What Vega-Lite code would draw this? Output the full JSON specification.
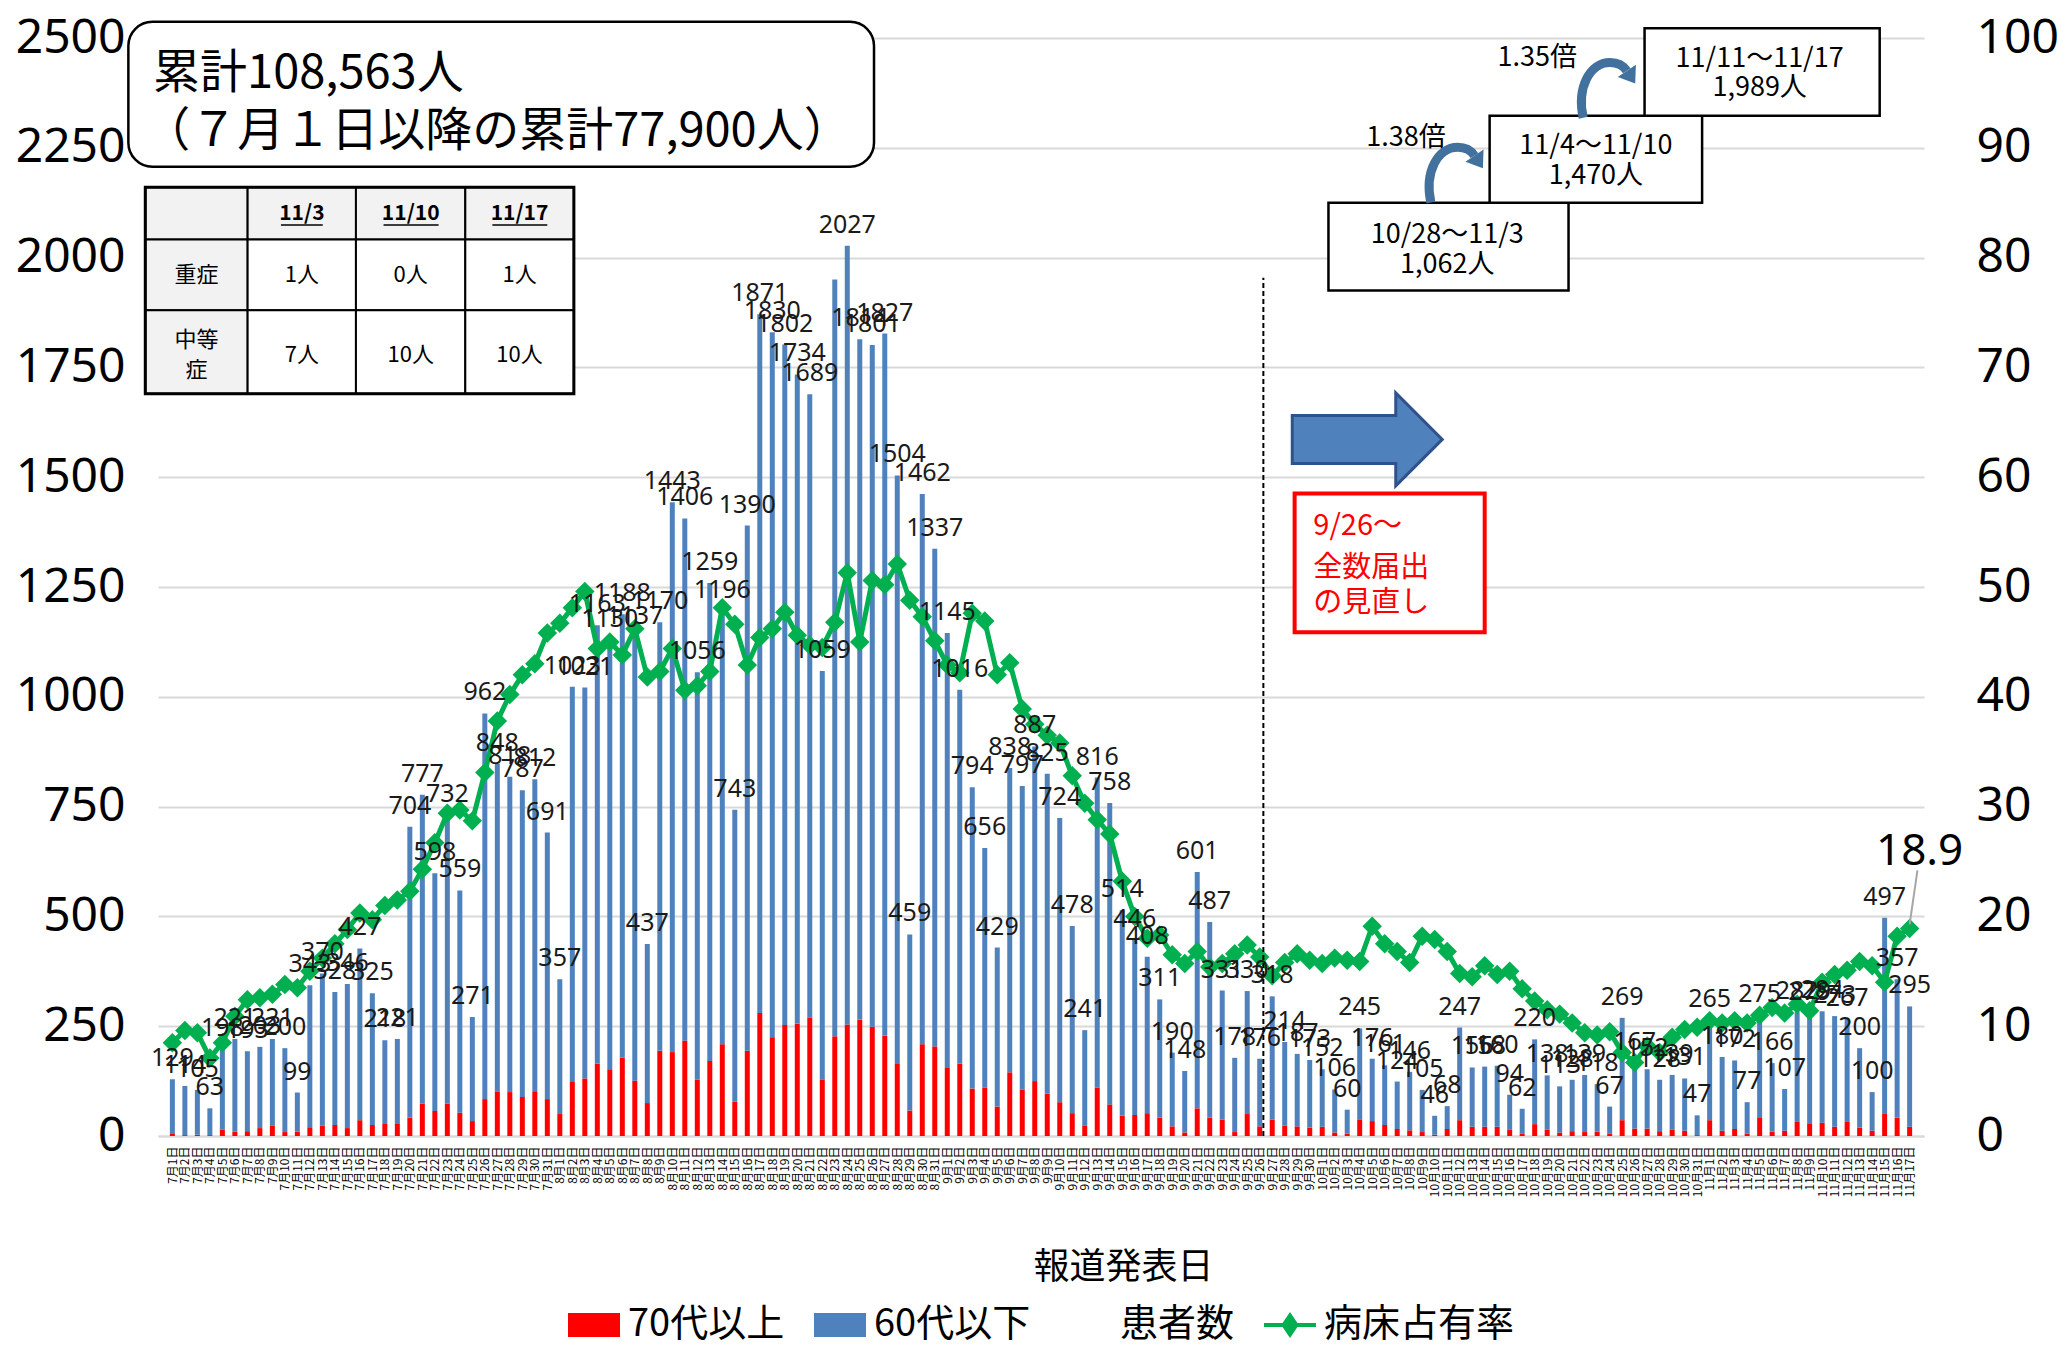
{
"$schema":"https://vega.github.io/schema/vega-lite/v6.json",
"width":1766,"height":1098,"autosize":"none",
"padding":{"left":158,"top":38,"right":135,"bottom":211},
"background":"white",
"config":{"view":{"stroke":null},"font":"Noto Sans CJK JP"},
"datasets":{"daily":[
{"date":"2022/07/01","70代以上":6,"60代以下":123,"n":129,"p":8.5},
{"date":"2022/07/02","70代以上":2,"60代以下":112,"n":114,"p":9.6},
{"date":"2022/07/03","70代以上":3,"60代以下":102,"n":105,"p":9.4},
{"date":"2022/07/04","70代以上":2,"60代以下":61,"n":63,"p":7.1},
{"date":"2022/07/05","70代以上":15,"60代以下":183,"n":198,"p":8.5},
{"date":"2022/07/06","70代以上":10,"60代以下":211,"n":221,"p":10.9},
{"date":"2022/07/07","70代以上":11,"60代以下":182,"n":193,"p":12.4},
{"date":"2022/07/08","70代以上":18,"60代以下":185,"n":203,"p":12.6},
{"date":"2022/07/09","70代以上":23,"60代以下":198,"n":221,"p":12.9},
{"date":"2022/07/10","70代以上":9,"60代以下":191,"n":200,"p":13.8},
{"date":"2022/07/11","70代以上":10,"60代以下":89,"n":99,"p":13.5},
{"date":"2022/07/12","70代以上":20,"60代以下":323,"n":343,"p":15.0},
{"date":"2022/07/13","70代以上":24,"60代以下":346,"n":370,"p":16.2},
{"date":"2022/07/14","70代以上":25,"60代以下":303,"n":328,"p":17.5},
{"date":"2022/07/15","70代以上":18,"60代以下":328,"n":346,"p":18.8},
{"date":"2022/07/16","70代以上":36,"60代以下":391,"n":427,"p":20.3},
{"date":"2022/07/17","70代以上":25,"60代以下":300,"n":325,"p":19.7},
{"date":"2022/07/18","70代以上":29,"60代以下":189,"n":218,"p":21.0},
{"date":"2022/07/19","70代以上":29,"60代以下":192,"n":221,"p":21.5},
{"date":"2022/07/20","70代以上":42,"60代以下":662,"n":704,"p":22.3},
{"date":"2022/07/21","70代以上":74,"60代以下":703,"n":777,"p":24.3},
{"date":"2022/07/22","70代以上":57,"60代以下":541,"n":598,"p":26.7},
{"date":"2022/07/23","70代以上":74,"60代以下":658,"n":732,"p":29.4},
{"date":"2022/07/24","70代以上":53,"60代以下":506,"n":559,"p":29.7},
{"date":"2022/07/25","70代以上":34,"60代以下":237,"n":271,"p":28.7},
{"date":"2022/07/26","70代以上":84,"60代以下":878,"n":962,"p":33.1},
{"date":"2022/07/27","70代以上":101,"60代以下":747,"n":848,"p":37.8},
{"date":"2022/07/28","70代以上":100,"60代以下":718,"n":818,"p":40.2},
{"date":"2022/07/29","70代以上":89,"60代以下":698,"n":787,"p":42.0},
{"date":"2022/07/30","70代以上":102,"60代以下":710,"n":812,"p":43.0},
{"date":"2022/07/31","70代以上":84,"60代以下":607,"n":691,"p":45.8},
{"date":"2022/08/01","70代以上":50,"60代以下":307,"n":357,"p":46.7},
{"date":"2022/08/02","70代以上":123,"60代以下":900,"n":1023,"p":48.1},
{"date":"2022/08/03","70代以上":131,"60代以下":890,"n":1021,"p":49.6},
{"date":"2022/08/04","70代以上":165,"60代以下":998,"n":1163,"p":44.4},
{"date":"2022/08/05","70代以上":152,"60代以下":978,"n":1130,"p":45.0},
{"date":"2022/08/06","70代以上":178,"60代以下":1010,"n":1188,"p":43.8},
{"date":"2022/08/07","70代以上":126,"60代以下":1011,"n":1137,"p":46.2},
{"date":"2022/08/08","70代以上":75,"60代以下":362,"n":437,"p":41.8},
{"date":"2022/08/09","70代以上":194,"60代以下":976,"n":1170,"p":42.3},
{"date":"2022/08/10","70代以上":191,"60代以下":1252,"n":1443,"p":44.4},
{"date":"2022/08/11","70代以上":217,"60代以下":1189,"n":1406,"p":40.6},
{"date":"2022/08/12","70代以上":128,"60代以下":928,"n":1056,"p":41.0},
{"date":"2022/08/13","70代以上":171,"60代以下":1088,"n":1259,"p":42.3},
{"date":"2022/08/14","70代以上":209,"60代以下":987,"n":1196,"p":48.1},
{"date":"2022/08/15","70代以上":78,"60代以下":665,"n":743,"p":46.6},
{"date":"2022/08/16","70代以上":194,"60代以下":1196,"n":1390,"p":42.9},
{"date":"2022/08/17","70代以上":280,"60代以下":1591,"n":1871,"p":45.4},
{"date":"2022/08/18","70代以上":225,"60代以下":1605,"n":1830,"p":46.2},
{"date":"2022/08/19","70代以上":253,"60代以下":1549,"n":1802,"p":47.7},
{"date":"2022/08/20","70代以上":256,"60代以下":1478,"n":1734,"p":45.6},
{"date":"2022/08/21","70代以上":270,"60代以下":1419,"n":1689,"p":44.7},
{"date":"2022/08/22","70代以上":129,"60代以下":930,"n":1059,"p":44.5},
{"date":"2022/08/23","70代以上":227,"60代以下":1723,"n":1950,"p":46.8},
{"date":"2022/08/24","70代以上":254,"60代以下":1773,"n":2027,"p":51.3},
{"date":"2022/08/25","70代以上":265,"60代以下":1549,"n":1814,"p":45.0},
{"date":"2022/08/26","70代以上":249,"60代以下":1552,"n":1801,"p":50.6},
{"date":"2022/08/27","70代以上":228,"60代以下":1599,"n":1827,"p":50.2},
{"date":"2022/08/28","70代以上":164,"60代以下":1340,"n":1504,"p":52.1},
{"date":"2022/08/29","70代以上":58,"60代以下":401,"n":459,"p":48.8},
{"date":"2022/08/30","70代以上":209,"60代以下":1253,"n":1462,"p":47.3},
{"date":"2022/08/31","70代以上":204,"60代以下":1133,"n":1337,"p":45.1},
{"date":"2022/09/01","70代以上":155,"60代以下":990,"n":1145,"p":42.9},
{"date":"2022/09/02","70代以上":165,"60代以下":851,"n":1016,"p":42.2},
{"date":"2022/09/03","70代以上":108,"60代以下":686,"n":794,"p":47.6},
{"date":"2022/09/04","70代以上":110,"60代以下":546,"n":656,"p":46.9},
{"date":"2022/09/05","70代以上":67,"60代以下":362,"n":429,"p":42.0},
{"date":"2022/09/06","70代以上":145,"60代以下":693,"n":838,"p":43.1},
{"date":"2022/09/07","70代以上":106,"60代以下":691,"n":797,"p":38.9},
{"date":"2022/09/08","70代以上":125,"60代以下":762,"n":887,"p":37.5},
{"date":"2022/09/09","70代以上":96,"60代以下":729,"n":825,"p":36.5},
{"date":"2022/09/10","70代以上":77,"60代以下":647,"n":724,"p":35.8},
{"date":"2022/09/11","70代以上":52,"60代以下":426,"n":478,"p":32.8},
{"date":"2022/09/12","70代以上":23,"60代以下":218,"n":241,"p":30.3},
{"date":"2022/09/13","70代以上":110,"60代以下":706,"n":816,"p":28.8},
{"date":"2022/09/14","70代以上":72,"60代以下":686,"n":758,"p":27.5},
{"date":"2022/09/15","70代以上":46,"60代以下":468,"n":514,"p":23.2},
{"date":"2022/09/16","70代以上":48,"60代以下":398,"n":446,"p":20.0},
{"date":"2022/09/17","70代以上":52,"60代以下":356,"n":408,"p":18.0},
{"date":"2022/09/18","70代以上":42,"60代以下":269,"n":311,"p":18.3},
{"date":"2022/09/19","70代以上":22,"60代以下":168,"n":190,"p":16.5},
{"date":"2022/09/20","70代以上":8,"60代以下":140,"n":148,"p":15.7},
{"date":"2022/09/21","70代以上":63,"60代以下":538,"n":601,"p":16.8},
{"date":"2022/09/22","70代以上":42,"60代以下":445,"n":487,"p":15.4},
{"date":"2022/09/23","70代以上":37,"60代以下":294,"n":331,"p":15.7},
{"date":"2022/09/24","70代以上":9,"60代以下":169,"n":178,"p":16.6},
{"date":"2022/09/25","70代以上":50,"60代以下":280,"n":330,"p":17.4},
{"date":"2022/09/26","70代以上":22,"60代以下":154,"n":176,"p":16.3},
{"date":"2022/09/27","70代以上":37,"60代以下":281,"n":318,"p":14.6},
{"date":"2022/09/28","70代以上":24,"60代以下":190,"n":214,"p":15.8},
{"date":"2022/09/29","70代以上":22,"60代以下":165,"n":187,"p":16.6},
{"date":"2022/09/30","70代以上":19,"60代以下":154,"n":173,"p":16.0},
{"date":"2022/10/01","70代以上":21,"60代以下":131,"n":152,"p":15.7},
{"date":"2022/10/02","70代以上":8,"60代以下":98,"n":106,"p":16.2},
{"date":"2022/10/03","70代以上":5,"60代以下":55,"n":60,"p":16.0},
{"date":"2022/10/04","70代以上":38,"60代以下":207,"n":245,"p":15.9},
{"date":"2022/10/05","70代以上":34,"60代以下":142,"n":176,"p":19.1},
{"date":"2022/10/06","70代以上":25,"60代以下":136,"n":161,"p":17.5},
{"date":"2022/10/07","70代以上":16,"60代以下":108,"n":124,"p":16.8},
{"date":"2022/10/08","70代以上":13,"60代以下":133,"n":146,"p":15.8},
{"date":"2022/10/09","70代以上":9,"60代以下":96,"n":105,"p":18.2},
{"date":"2022/10/10","70代以上":3,"60代以下":43,"n":46,"p":17.9},
{"date":"2022/10/11","70代以上":16,"60代以下":52,"n":68,"p":16.8},
{"date":"2022/10/12","70代以上":36,"60代以下":211,"n":247,"p":14.8},
{"date":"2022/10/13","70代以上":21,"60代以下":135,"n":156,"p":14.5},
{"date":"2022/10/14","70代以上":21,"60代以下":137,"n":158,"p":15.5},
{"date":"2022/10/15","70代以上":21,"60代以下":139,"n":160,"p":14.7},
{"date":"2022/10/16","70代以上":14,"60代以下":80,"n":94,"p":15.0},
{"date":"2022/10/17","70代以上":6,"60代以下":56,"n":62,"p":13.4},
{"date":"2022/10/18","70代以上":27,"60代以下":193,"n":220,"p":12.3},
{"date":"2022/10/19","70代以上":14,"60代以下":124,"n":138,"p":11.5},
{"date":"2022/10/20","70代以上":8,"60代以下":105,"n":113,"p":11.1},
{"date":"2022/10/21","70代以上":11,"60代以下":117,"n":128,"p":10.3},
{"date":"2022/10/22","70代以上":9,"60代以下":130,"n":139,"p":9.4},
{"date":"2022/10/23","70代以上":10,"60代以下":108,"n":118,"p":9.2},
{"date":"2022/10/24","70代以上":6,"60代以下":61,"n":67,"p":9.5},
{"date":"2022/10/25","70代以上":36,"60代以下":233,"n":269,"p":7.6},
{"date":"2022/10/26","70代以上":17,"60代以下":150,"n":167,"p":6.7},
{"date":"2022/10/27","70代以上":17,"60代以下":135,"n":152,"p":8.2},
{"date":"2022/10/28","70代以上":11,"60代以下":117,"n":128,"p":7.6},
{"date":"2022/10/29","70代以上":14,"60代以下":125,"n":139,"p":9.0},
{"date":"2022/10/30","70代以上":12,"60代以下":119,"n":131,"p":9.7},
{"date":"2022/10/31","70代以上":2,"60代以下":45,"n":47,"p":9.9},
{"date":"2022/11/01","70代以上":36,"60代以下":229,"n":265,"p":10.5},
{"date":"2022/11/02","70代以上":12,"60代以下":168,"n":180,"p":10.3},
{"date":"2022/11/03","70代以上":16,"60代以下":156,"n":172,"p":10.5},
{"date":"2022/11/04","70代以上":5,"60代以下":72,"n":77,"p":10.3},
{"date":"2022/11/05","70代以上":41,"60代以下":234,"n":275,"p":11.0},
{"date":"2022/11/06","70代以上":10,"60代以下":156,"n":166,"p":11.7},
{"date":"2022/11/07","70代以上":12,"60代以下":95,"n":107,"p":11.2},
{"date":"2022/11/08","70代以上":32,"60代以下":250,"n":282,"p":12.0},
{"date":"2022/11/09","70代以上":29,"60代以下":250,"n":279,"p":11.4},
{"date":"2022/11/10","70代以上":30,"60代以下":254,"n":284,"p":14.0},
{"date":"2022/11/11","70代以上":21,"60代以下":252,"n":273,"p":14.7},
{"date":"2022/11/12","70代以上":32,"60代以下":235,"n":267,"p":15.1},
{"date":"2022/11/13","70代以上":19,"60代以下":181,"n":200,"p":15.9},
{"date":"2022/11/14","70代以上":12,"60代以下":88,"n":100,"p":15.5},
{"date":"2022/11/15","70代以上":50,"60代以下":447,"n":497,"p":14.0},
{"date":"2022/11/16","70代以上":42,"60代以下":315,"n":357,"p":18.2},
{"date":"2022/11/17","70代以上":21,"60代以下":274,"n":295,"p":18.9}
]},
"layer":[
{
"data":{"name":"daily"},
"transform":[{"fold":["70代以上","60代以下"],"as":["age","v"]}],
"mark":{"type":"bar","width":5},
"encoding":{
"x":{"field":"date","type":"temporal","scale":{"domain":[{"year":2022,"month":6,"date":30,"hours":6},{"year":2022,"month":11,"date":17,"hours":18}]},
"axis":{"title":"報道発表日","tickCount":400,
"values":[
{"year":2022,"month":7,"date":1},{"year":2022,"month":7,"date":2},{"year":2022,"month":7,"date":3},{"year":2022,"month":7,"date":4},{"year":2022,"month":7,"date":5},{"year":2022,"month":7,"date":6},{"year":2022,"month":7,"date":7},{"year":2022,"month":7,"date":8},{"year":2022,"month":7,"date":9},{"year":2022,"month":7,"date":10},
{"year":2022,"month":7,"date":11},{"year":2022,"month":7,"date":12},{"year":2022,"month":7,"date":13},{"year":2022,"month":7,"date":14},{"year":2022,"month":7,"date":15},{"year":2022,"month":7,"date":16},{"year":2022,"month":7,"date":17},{"year":2022,"month":7,"date":18},{"year":2022,"month":7,"date":19},{"year":2022,"month":7,"date":20},
{"year":2022,"month":7,"date":21},{"year":2022,"month":7,"date":22},{"year":2022,"month":7,"date":23},{"year":2022,"month":7,"date":24},{"year":2022,"month":7,"date":25},{"year":2022,"month":7,"date":26},{"year":2022,"month":7,"date":27},{"year":2022,"month":7,"date":28},{"year":2022,"month":7,"date":29},{"year":2022,"month":7,"date":30},{"year":2022,"month":7,"date":31},
{"year":2022,"month":8,"date":1},{"year":2022,"month":8,"date":2},{"year":2022,"month":8,"date":3},{"year":2022,"month":8,"date":4},{"year":2022,"month":8,"date":5},{"year":2022,"month":8,"date":6},{"year":2022,"month":8,"date":7},{"year":2022,"month":8,"date":8},{"year":2022,"month":8,"date":9},{"year":2022,"month":8,"date":10},
{"year":2022,"month":8,"date":11},{"year":2022,"month":8,"date":12},{"year":2022,"month":8,"date":13},{"year":2022,"month":8,"date":14},{"year":2022,"month":8,"date":15},{"year":2022,"month":8,"date":16},{"year":2022,"month":8,"date":17},{"year":2022,"month":8,"date":18},{"year":2022,"month":8,"date":19},{"year":2022,"month":8,"date":20},
{"year":2022,"month":8,"date":21},{"year":2022,"month":8,"date":22},{"year":2022,"month":8,"date":23},{"year":2022,"month":8,"date":24},{"year":2022,"month":8,"date":25},{"year":2022,"month":8,"date":26},{"year":2022,"month":8,"date":27},{"year":2022,"month":8,"date":28},{"year":2022,"month":8,"date":29},{"year":2022,"month":8,"date":30},{"year":2022,"month":8,"date":31},
{"year":2022,"month":9,"date":1},{"year":2022,"month":9,"date":2},{"year":2022,"month":9,"date":3},{"year":2022,"month":9,"date":4},{"year":2022,"month":9,"date":5},{"year":2022,"month":9,"date":6},{"year":2022,"month":9,"date":7},{"year":2022,"month":9,"date":8},{"year":2022,"month":9,"date":9},{"year":2022,"month":9,"date":10},
{"year":2022,"month":9,"date":11},{"year":2022,"month":9,"date":12},{"year":2022,"month":9,"date":13},{"year":2022,"month":9,"date":14},{"year":2022,"month":9,"date":15},{"year":2022,"month":9,"date":16},{"year":2022,"month":9,"date":17},{"year":2022,"month":9,"date":18},{"year":2022,"month":9,"date":19},{"year":2022,"month":9,"date":20},
{"year":2022,"month":9,"date":21},{"year":2022,"month":9,"date":22},{"year":2022,"month":9,"date":23},{"year":2022,"month":9,"date":24},{"year":2022,"month":9,"date":25},{"year":2022,"month":9,"date":26},{"year":2022,"month":9,"date":27},{"year":2022,"month":9,"date":28},{"year":2022,"month":9,"date":29},{"year":2022,"month":9,"date":30},
{"year":2022,"month":10,"date":1},{"year":2022,"month":10,"date":2},{"year":2022,"month":10,"date":3},{"year":2022,"month":10,"date":4},{"year":2022,"month":10,"date":5},{"year":2022,"month":10,"date":6},{"year":2022,"month":10,"date":7},{"year":2022,"month":10,"date":8},{"year":2022,"month":10,"date":9},{"year":2022,"month":10,"date":10},
{"year":2022,"month":10,"date":11},{"year":2022,"month":10,"date":12},{"year":2022,"month":10,"date":13},{"year":2022,"month":10,"date":14},{"year":2022,"month":10,"date":15},{"year":2022,"month":10,"date":16},{"year":2022,"month":10,"date":17},{"year":2022,"month":10,"date":18},{"year":2022,"month":10,"date":19},{"year":2022,"month":10,"date":20},
{"year":2022,"month":10,"date":21},{"year":2022,"month":10,"date":22},{"year":2022,"month":10,"date":23},{"year":2022,"month":10,"date":24},{"year":2022,"month":10,"date":25},{"year":2022,"month":10,"date":26},{"year":2022,"month":10,"date":27},{"year":2022,"month":10,"date":28},{"year":2022,"month":10,"date":29},{"year":2022,"month":10,"date":30},{"year":2022,"month":10,"date":31},
{"year":2022,"month":11,"date":1},{"year":2022,"month":11,"date":2},{"year":2022,"month":11,"date":3},{"year":2022,"month":11,"date":4},{"year":2022,"month":11,"date":5},{"year":2022,"month":11,"date":6},{"year":2022,"month":11,"date":7},{"year":2022,"month":11,"date":8},{"year":2022,"month":11,"date":9},{"year":2022,"month":11,"date":10},
{"year":2022,"month":11,"date":11},{"year":2022,"month":11,"date":12},{"year":2022,"month":11,"date":13},{"year":2022,"month":11,"date":14},{"year":2022,"month":11,"date":15},{"year":2022,"month":11,"date":16},{"year":2022,"month":11,"date":17}
],
"format":"%-m月%-d日","labelAngle":270,"labelFontSize":12,"labelFont":"Noto Sans CJK JP","labelColor":"#000","labelPadding":10,"labelOverlap":false,"labelBound":false,"labelFlush":false,"ticks":false,"grid":false,"domainColor":"#D9D9D9","domainWidth":2,"titleFontSize":36,"titleFont":"Noto Sans CJK JP","titleFontWeight":"normal","titleColor":"#000","titleX":965,"titleY":114,"titleBaseline":"top","titleAlign":"center"}},
"y":{"field":"v","type":"quantitative","stack":"zero","scale":{"domain":[0,2500],"nice":false},
"axis":{"values":[0,250,500,750,1000,1250,1500,1750,2000,2250,2500],"format":"d","title":null,"grid":true,"gridColor":"#D9D9D9","gridWidth":2,"domain":false,"ticks":false,"labelFontSize":48,"labelFont":"Noto Sans","labelColor":"#000","labelPadding":33}},
"color":{"field":"age","type":"nominal","scale":{"domain":["70代以上","60代以下","患者数","病床占有率"],"range":["#FF0000","#4F81BD","rgba(0,0,0,0)","#00B050"]},
"legend":{"title":null,"orient":"none","legendX":410,"legendY":1261,"direction":"horizontal","symbolSize":2704,"labelFontSize":38,"labelFont":"Noto Sans CJK JP","labelColor":"#000","labelOffset":8,"columnPadding":29,"padding":0,"labelLimit":400,"symbolStrokeWidth":0,
"encode":{"symbols":{"update":{"shape":{"signal":"datum.value === '病床占有率' ? 'M-1,-0.08L1,-0.08L1,0.08L-1,0.08Z M0,-0.5L0.34,0L0,0.5L-0.34,0Z' : 'M-1,-0.46L1,-0.46L1,0.46L-1,0.46Z'"}}}}}},
"order":{"field":"age","sort":"descending"}
}
},
{
"data":{"name":"daily"},
"mark":{"type":"line","color":"#00B050","strokeWidth":5,"point":{"shape":"diamond","size":380,"filled":true,"color":"#00B050"}},
"encoding":{
"x":{"field":"date","type":"temporal"},
"y":{"field":"p","type":"quantitative","scale":{"domain":[0,100],"nice":false},
"axis":{"orient":"right","values":[0,10,20,30,40,50,60,70,80,90,100],"format":"d","title":null,"grid":false,"domain":false,"ticks":false,"labelFontSize":48,"labelFont":"Noto Sans","labelColor":"#000","labelPadding":52}}
}
},
{
"layer":[
{
"data":{"name":"daily"},
"transform":[{"filter":"datum.n != 1950"}],
"mark":{"type":"text","baseline":"alphabetic","dy":-13,"fontSize":25,"font":"Noto Sans","color":"#1a1a1a"},
"encoding":{
"x":{"field":"date","type":"temporal"},
"y":{"field":"n","type":"quantitative","scale":{"domain":[0,2500],"nice":false},"axis":null},
"text":{"field":"n","type":"quantitative","format":"d"}
}
},
{
"data":{"values":[{"t1":"2022/06/27 11:30","t2":"2022/08/26 03:20","v1":2207,"v2":2537}],"format":{"parse":{"t1":"date","t2":"date"}}},
"mark":{"type":"rect","fill":"white","stroke":"#000","strokeWidth":2.5,"cornerRadius":24},
"encoding":{"x":{"field":"t1","type":"temporal"},"x2":{"field":"t2"},"y":{"field":"v1","type":"quantitative","scale":{"domain":[0,2500],"nice":false},"axis":null},"y2":{"field":"v2"}}
},
{
"data":{"values":[{"t":"2022/06/29 11:00","v":2387,"s":"累計108,563人"},{"t":"2022/06/28 16:00","v":2253,"s":"（７月１日以降の累計77,900人）"}],"format":{"parse":{"t":"date"}}},
"mark":{"type":"text","align":"left","baseline":"alphabetic","fontSize":47,"font":"Noto Sans CJK JP","color":"#000"},
"encoding":{"x":{"field":"t","type":"temporal"},"y":{"field":"v","type":"quantitative","scale":{"domain":[0,2500],"nice":false},"axis":null},"text":{"field":"s"}}
},
{
"data":{"values":[
{"t1":"2022/06/28 20:00","t2":"2022/07/07 00:30","v1":2041,"v2":2160},
{"t1":"2022/07/07 00:30","t2":"2022/07/15 16:30","v1":2041,"v2":2160},
{"t1":"2022/07/15 16:30","t2":"2022/07/24 10:30","v1":2041,"v2":2160},
{"t1":"2022/07/24 10:30","t2":"2022/08/02 03:00","v1":2041,"v2":2160},
{"t1":"2022/06/28 20:00","t2":"2022/07/07 00:30","v1":1880,"v2":2041},
{"t1":"2022/06/28 20:00","t2":"2022/07/07 00:30","v1":1690,"v2":1880}
],"format":{"parse":{"t1":"date","t2":"date"}}},
"mark":{"type":"rect","fill":"#F2F2F2","stroke":"#000","strokeWidth":2},
"encoding":{"x":{"field":"t1","type":"temporal"},"x2":{"field":"t2"},"y":{"field":"v1","type":"quantitative","scale":{"domain":[0,2500],"nice":false},"axis":null},"y2":{"field":"v2"}}
},
{
"data":{"values":[
{"t1":"2022/07/07 00:30","t2":"2022/07/15 16:30","v1":1880,"v2":2041},
{"t1":"2022/07/15 16:30","t2":"2022/07/24 10:30","v1":1880,"v2":2041},
{"t1":"2022/07/24 10:30","t2":"2022/08/02 03:00","v1":1880,"v2":2041},
{"t1":"2022/07/07 00:30","t2":"2022/07/15 16:30","v1":1690,"v2":1880},
{"t1":"2022/07/15 16:30","t2":"2022/07/24 10:30","v1":1690,"v2":1880},
{"t1":"2022/07/24 10:30","t2":"2022/08/02 03:00","v1":1690,"v2":1880}
],"format":{"parse":{"t1":"date","t2":"date"}}},
"mark":{"type":"rect","fill":"#FFFFFF","stroke":"#000","strokeWidth":2},
"encoding":{"x":{"field":"t1","type":"temporal"},"x2":{"field":"t2"},"y":{"field":"v1","type":"quantitative","scale":{"domain":[0,2500],"nice":false},"axis":null},"y2":{"field":"v2"}}
},
{
"data":{"values":[{"t1":"2022/06/28 20:00","t2":"2022/08/02 03:00","v1":1690,"v2":2160}],"format":{"parse":{"t1":"date","t2":"date"}}},
"mark":{"type":"rect","filled":false,"stroke":"#000","strokeWidth":3},
"encoding":{"x":{"field":"t1","type":"temporal"},"x2":{"field":"t2"},"y":{"field":"v1","type":"quantitative","scale":{"domain":[0,2500],"nice":false},"axis":null},"y2":{"field":"v2"}}
},
{
"data":{"values":[
{"t":"2022/07/11 08:40","v":2100,"s":"11/3"},
{"t":"2022/07/20 01:40","v":2100,"s":"11/10"},
{"t":"2022/07/28 18:40","v":2100,"s":"11/17"}
],"format":{"parse":{"t":"date"}}},
"mark":{"type":"text","align":"center","baseline":"middle","fontSize":21,"fontWeight":"bold","font":"Noto Sans CJK JP","color":"#000"},
"encoding":{"x":{"field":"t","type":"temporal"},"y":{"field":"v","type":"quantitative","scale":{"domain":[0,2500],"nice":false},"axis":null},"text":{"field":"s"}}
},
{
"data":{"values":[
{"t1":"2022/07/09 16:30","t2":"2022/07/13 00:45","v":2074},
{"t1":"2022/07/17 21:30","t2":"2022/07/22 07:10","v":2074},
{"t1":"2022/07/26 14:30","t2":"2022/07/31 00:00","v":2074}
],"format":{"parse":{"t1":"date","t2":"date"}}},
"mark":{"type":"rule","color":"#000","strokeWidth":1.5},
"encoding":{"x":{"field":"t1","type":"temporal"},"x2":{"field":"t2"},"y":{"field":"v","type":"quantitative","scale":{"domain":[0,2500],"nice":false},"axis":null}}
},
{
"data":{"values":[
{"t":"2022/07/02 22:20","v":1960,"s":"重症"},
{"t":"2022/07/11 08:40","v":1960,"s":"1人"},
{"t":"2022/07/20 01:40","v":1960,"s":"0人"},
{"t":"2022/07/28 18:40","v":1960,"s":"1人"},
{"t":"2022/07/02 22:20","v":1813,"s":"中等"},
{"t":"2022/07/02 22:20","v":1745,"s":"症"},
{"t":"2022/07/11 08:40","v":1779,"s":"7人"},
{"t":"2022/07/20 01:40","v":1779,"s":"10人"},
{"t":"2022/07/28 18:40","v":1779,"s":"10人"}
],"format":{"parse":{"t":"date"}}},
"mark":{"type":"text","align":"center","baseline":"middle","fontSize":22,"font":"Noto Sans CJK JP","color":"#000"},
"encoding":{"x":{"field":"t","type":"temporal"},"y":{"field":"v","type":"quantitative","scale":{"domain":[0,2500],"nice":false},"axis":null},"text":{"field":"s"}}
},
{
"data":{"values":[
{"t1":"2022/10/01 12:00","t2":"2022/10/20 17:00","v1":1925,"v2":2125},
{"t1":"2022/10/14 09:30","t2":"2022/10/31 09:30","v1":2125,"v2":2323},
{"t1":"2022/10/26 19:00","t2":"2022/11/14 14:30","v1":2323,"v2":2522}
],"format":{"parse":{"t1":"date","t2":"date"}}},
"mark":{"type":"rect","fill":"white","stroke":"#000","strokeWidth":2.5},
"encoding":{"x":{"field":"t1","type":"temporal"},"x2":{"field":"t2"},"y":{"field":"v1","type":"quantitative","scale":{"domain":[0,2500],"nice":false},"axis":null},"y2":{"field":"v2"}}
},
{
"data":{"values":[
{"t":"2022/10/11 00:00","v":2034,"s":"10/28～11/3"},
{"t":"2022/10/11 00:00","v":1966,"s":"1,062人"},
{"t":"2022/10/22 21:30","v":2235,"s":"11/4～11/10"},
{"t":"2022/10/22 21:30","v":2168,"s":"1,470人"},
{"t":"2022/11/05 00:00","v":2435,"s":"11/11～11/17"},
{"t":"2022/11/05 00:00","v":2369,"s":"1,989人"},
{"t":"2022/10/07 17:00","v":2253,"s":"1.38倍"},
{"t":"2022/10/18 05:00","v":2437,"s":"1.35倍"}
],"format":{"parse":{"t":"date"}}},
"mark":{"type":"text","align":"center","baseline":"alphabetic","fontSize":27,"font":"Noto Sans CJK JP","color":"#000"},
"encoding":{"x":{"field":"t","type":"temporal"},"y":{"field":"v","type":"quantitative","scale":{"domain":[0,2500],"nice":false},"axis":null},"text":{"field":"s"}}
},
{
"data":{"values":[{"t":"2022/10/11 17:00","v":2194},{"t":"2022/10/23 21:30","v":2387}],"format":{"parse":{"t":"date"}}},
"mark":{"type":"point","shape":"M-0.75,0.9C-0.95,0.0 -0.55,-0.75 0.05,-0.75C0.3,-0.75 0.45,-0.65 0.55,-0.5","size":4500,"filled":false,"stroke":"#41719C","strokeWidth":9,"opacity":1},
"encoding":{"x":{"field":"t","type":"temporal"},"y":{"field":"v","type":"quantitative","scale":{"domain":[0,2500],"nice":false},"axis":null}}
},
{
"data":{"values":[{"t":"2022/10/11 17:00","v":2194},{"t":"2022/10/23 21:30","v":2387}],"format":{"parse":{"t":"date"}}},
"mark":{"type":"point","shape":"M0.28,-0.32L0.82,-0.68L0.8,-0.12Z","size":4500,"filled":true,"color":"#41719C","opacity":1},
"encoding":{"x":{"field":"t","type":"temporal"},"y":{"field":"v","type":"quantitative","scale":{"domain":[0,2500],"nice":false},"axis":null}}
},
{
"data":{"values":[{"t":"2022/10/04 14:30","v":1586}],"format":{"parse":{"t":"date"}}},
"mark":{"type":"point","shape":"M-1,-0.32L0.38,-0.32L0.38,-0.62L1,0L0.38,0.62L0.38,0.32L-1,0.32Z","size":22500,"filled":true,"fill":"#4F81BD","stroke":"#2F528F","strokeWidth":3,"opacity":1},
"encoding":{"x":{"field":"t","type":"temporal"},"y":{"field":"v","type":"quantitative","scale":{"domain":[0,2500],"nice":false},"axis":null}}
},
{
"data":{"values":[{"t1":"2022/09/28 19:00","t2":"2022/10/14 00:00","v1":1147,"v2":1463}],"format":{"parse":{"t1":"date","t2":"date"}}},
"mark":{"type":"rect","fill":"white","stroke":"#FF0000","strokeWidth":4},
"encoding":{"x":{"field":"t1","type":"temporal"},"x2":{"field":"t2"},"y":{"field":"v1","type":"quantitative","scale":{"domain":[0,2500],"nice":false},"axis":null},"y2":{"field":"v2"}}
},
{
"data":{"values":[
{"t":"2022/09/30 07:00","v":1369,"s":"9/26～"},
{"t":"2022/09/30 07:00","v":1272,"s":"全数届出"},
{"t":"2022/09/30 07:00","v":1194,"s":"の見直し"}
],"format":{"parse":{"t":"date"}}},
"mark":{"type":"text","align":"left","baseline":"alphabetic","fontSize":29,"font":"Noto Sans CJK JP","color":"#FF0000"},
"encoding":{"x":{"field":"t","type":"temporal"},"y":{"field":"v","type":"quantitative","scale":{"domain":[0,2500],"nice":false},"axis":null},"text":{"field":"s"}}
},
{
"data":{"values":[{"t":"2022/09/26 07:00","v1":0,"v2":1954}],"format":{"parse":{"t":"date"}}},
"mark":{"type":"rule","color":"#000","strokeWidth":2,"strokeDash":[5,3]},
"encoding":{"x":{"field":"t","type":"temporal"},"y":{"field":"v1","type":"quantitative","scale":{"domain":[0,2500],"nice":false},"axis":null},"y2":{"field":"v2"}}
},
{
"data":{"values":[{"t1":"2022/11/17 00:00","t2":"2022/11/17 15:00","v1":482,"v2":605}],"format":{"parse":{"t1":"date","t2":"date"}}},
"mark":{"type":"rule","color":"#A6A6A6","strokeWidth":2},
"encoding":{"x":{"field":"t1","type":"temporal"},"x2":{"field":"t2"},"y":{"field":"v1","type":"quantitative","scale":{"domain":[0,2500],"nice":false},"axis":null},"y2":{"field":"v2"}}
},
{
"data":{"values":[{"t":"2022/11/17 00:00","v":618,"s":"18.9"}],"format":{"parse":{"t":"date"}}},
"mark":{"type":"text","align":"center","baseline":"alphabetic","dx":10,"fontSize":44,"font":"Noto Sans","color":"#000"},
"encoding":{"x":{"field":"t","type":"temporal"},"y":{"field":"v","type":"quantitative","scale":{"domain":[0,2500],"nice":false},"axis":null},"text":{"field":"s"}}
}
]
}
],
"resolve":{"scale":{"y":"independent"}}
}
